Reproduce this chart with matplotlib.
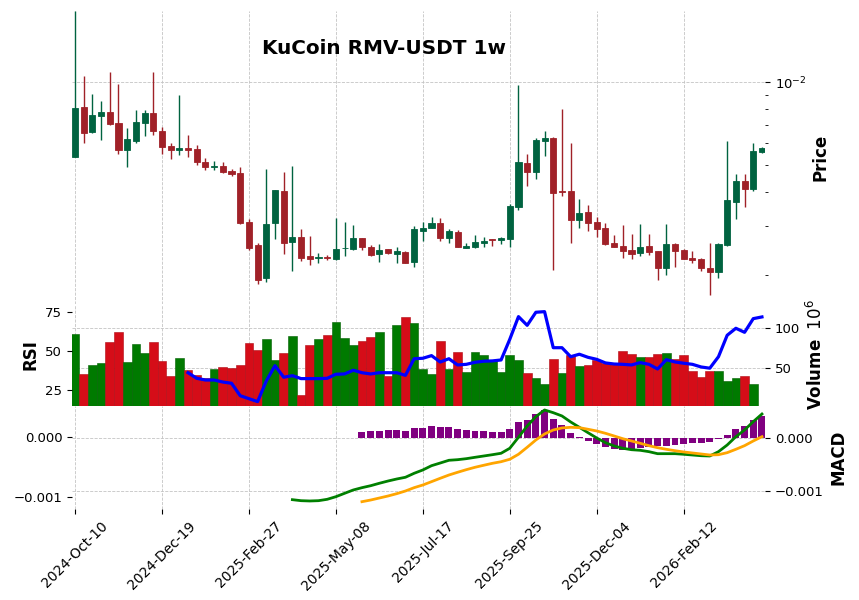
import numpy as np
import pandas as pd
import matplotlib
matplotlib.use('Agg')
import matplotlib.pyplot as plt
from matplotlib.ticker import MultipleLocator, NullFormatter

nan = np.nan

# weekly candles, KuCoin RMV-USDT
dates = pd.date_range('2024-10-10', periods=80, freq='7D')

opens = [0.00537, 0.00814, 0.00660, 0.00757, 0.00780, 0.00712, 0.00569, 0.00614, 0.00714, 0.00774,
         0.00666, 0.00587, 0.00569, 0.00577, 0.00573, 0.00514, 0.00494, 0.00497, 0.00478, 0.00469,
         0.00311, 0.00257, 0.00194, 0.00309, 0.00403, 0.00264, 0.002745, 0.00234, 0.00230, 0.002316,
         0.00229, 0.00250, 0.00249, 0.00273, 0.00253, 0.00239, 0.00249, 0.00239, 0.00242, 0.00223,
         0.00289, 0.00297, 0.00309, 0.00273, 0.00286, 0.00251, 0.00253, 0.00262, 0.00269, 0.00267,
         0.00271, 0.00353, 0.00509, 0.00474, 0.00614, 0.00628, 0.00403, 0.00403, 0.00317, 0.00338,
         0.00310, 0.00296, 0.00261, 0.00255, 0.00246, 0.00241, 0.00255, 0.00244, 0.00211, 0.00259,
         0.00246, 0.00231, 0.002284, 0.00212, 0.00204, 0.00256, 0.00369, 0.00438, 0.00411, 0.00558]
highs = [0.0181, 0.01051, 0.00904, 0.00853, 0.01087, 0.00989, 0.00681, 0.00791, 0.00793, 0.01087,
         0.00688, 0.00600, 0.00897, 0.00642, 0.00590, 0.00530, 0.00519, 0.00514, 0.00483, 0.00494,
         0.00320, 0.00260, 0.00483, 0.00407, 0.00473, 0.00495, 0.00293, 0.00276, 0.00240, 0.00237,
         0.00322, 0.00311, 0.00303, 0.00273, 0.002575, 0.00259, 0.00249, 0.00252, 0.00244, 0.00300,
         0.00310, 0.00324, 0.00321, 0.00293, 0.00292, 0.00260, 0.00278, 0.00275, 0.00271, 0.00275,
         0.00363, 0.00975, 0.00551, 0.00626, 0.00664, 0.00633, 0.00800, 0.00600, 0.00376, 0.00358,
         0.00325, 0.00308, 0.00278, 0.00303, 0.00281, 0.00305, 0.00281, 0.00244, 0.00305, 0.00261,
         0.002475, 0.00245, 0.00230, 0.00260, 0.00260, 0.00611, 0.00465, 0.00465, 0.00600, 0.00581]
lows = [0.00535, 0.00602, 0.006565, 0.00616, 0.00702, 0.00551, 0.00491, 0.00600, 0.00637, 0.00642,
        0.00551, 0.00528, 0.00546, 0.00534, 0.00500, 0.00479, 0.00479, 0.00470, 0.00456, 0.00306,
        0.00246, 0.00186, 0.00189, 0.00269, 0.00239, 0.00206, 0.00224, 0.00218, 0.00221, 0.00226,
        0.00227, 0.002335, 0.00246, 0.00246, 0.002335, 0.00222, 0.00238, 0.00221, 0.00221, 0.00213,
        0.00265, 0.00295, 0.00265, 0.00260, 0.00252, 0.00251, 0.00251, 0.00252, 0.00254, 0.00259,
        0.00253, 0.00345, 0.00419, 0.00447, 0.00539, 0.00209, 0.00388, 0.00260, 0.00297, 0.00288,
        0.00275, 0.002575, 0.002525, 0.00230, 0.00228, 0.00235, 0.00236, 0.00192, 0.00200, 0.00213,
        0.002284, 0.00221, 0.00206, 0.00169, 0.00194, 0.00254, 0.00318, 0.00354, 0.00404, 0.00555]
closes = [0.00807, 0.00657, 0.00761, 0.00780, 0.00706, 0.00569, 0.00623, 0.00718, 0.00774, 0.00668,
          0.00584, 0.00569, 0.00577, 0.00569, 0.00515, 0.00494, 0.00498, 0.00474, 0.00466, 0.00309,
          0.00251, 0.00192, 0.00306, 0.00407, 0.00262, 0.002745, 0.00231, 0.00228, 0.002316, 0.00230,
          0.00249, 0.00251, 0.00272, 0.00252, 0.00237, 0.00246, 0.00240, 0.00244, 0.00221, 0.00293,
          0.00296, 0.00309, 0.00272, 0.00289, 0.00253, 0.00255, 0.00263, 0.00266, 0.00267, 0.00272,
          0.00356, 0.00514, 0.00474, 0.00617, 0.00630, 0.00398, 0.00399, 0.00317, 0.00335, 0.00309,
          0.00294, 0.00259, 0.00253, 0.00245, 0.00239, 0.002525, 0.00243, 0.00211, 0.00259, 0.00245,
          0.00229, 0.00227, 0.00211, 0.00204, 0.00259, 0.00374, 0.00438, 0.00411, 0.00563, 0.00577]
# volume in millions
volume = [92.2, 43.0, 54.1, 56.9, 82.4, 94.7, 57.8, 80.3, 69.2, 82.4,
          59.0, 40.5, 62.7, 47.9, 41.7, 38.1, 49.1, 51.6, 50.7, 54.1,
          81.2, 72.5, 86.1, 60.2, 68.8, 89.8, 17.1, 78.7, 86.1, 91.0,
          107.0, 87.3, 78.7, 83.6, 88.5, 94.7, 40.5, 103.3, 113.2, 105.8,
          49.1, 43.0, 83.6, 49.1, 70.1, 45.4, 70.1, 66.4, 60.2, 45.4,
          66.4, 60.2, 44.2, 38.1, 30.7, 61.5, 44.2, 66.4, 52.8, 54.1,
          60.2, 56.5, 55.3, 71.3, 67.6, 63.9, 63.9, 67.6, 68.8, 61.5,
          66.4, 46.7, 39.3, 46.7, 46.7, 34.4, 38.1, 40.5, 30.7, 2.0]
rsi = [nan] * 13 + [
    36.0, 32.4, 31.3, 31.3, 30.0, 29.2, 21.2, 19.3, 17.4, 30.7,
    40.5, 33.1, 34.1, 32.2, 32.2, 32.2, 32.4, 35.0, 35.2, 37.6,
    36.0, 35.2, 36.0, 36.0, 36.0, 34.3, 45.0, 45.3, 47.0, 42.9,
    45.0, 41.0, 41.4, 42.7, 43.4, 43.6, 44.2, 57.5, 72.1, 66.5,
    74.9, 75.3, 52.1, 52.1, 46.3, 47.9, 45.9, 44.6, 42.3, 41.6,
    41.4, 41.0, 42.5, 41.4, 38.4, 44.4, 42.9, 42.1, 41.4, 39.7,
    38.9, 46.3, 60.1, 64.6, 62.0, 70.8, 71.9]
macd = [nan] * 25 + [
    -0.001050, -0.001067, -0.001072, -0.001067, -0.001044, -0.001000, -0.000943, -0.000887, -0.000848, -0.000815,
    -0.000774, -0.000736, -0.000702, -0.000673, -0.000606, -0.000550, -0.000478, -0.000433, -0.000387, -0.000377,
    -0.000360, -0.000337, -0.000315, -0.000293, -0.000269, -0.000185, 0.000000, 0.000190, 0.000347, 0.000460,
    0.000414, 0.000359, 0.000258, 0.000168, 0.000077, -0.000012, -0.000091, -0.000146, -0.000185, -0.000209,
    -0.000219, -0.000242, -0.000276, -0.000276, -0.000276, -0.000286, -0.000298, -0.000310, -0.000315, -0.000242,
    -0.000130, 0.000010, 0.000123, 0.000263, 0.000392]
signal = [nan] * 33 + [
    -0.001084, -0.001056, -0.001022, -0.000988, -0.000949, -0.000904, -0.000848, -0.000803, -0.000747, -0.000690,
    -0.000635, -0.000589, -0.000545, -0.000505, -0.000471, -0.000438, -0.000411, -0.000370, -0.000286, -0.000168,
    -0.000045, 0.000056, 0.000123, 0.000157, 0.000168, 0.000162, 0.000135, 0.000106, 0.000067, 0.000022,
    -0.000024, -0.000062, -0.000101, -0.000141, -0.000175, -0.000202, -0.000226, -0.000247, -0.000264, -0.000281,
    -0.000298, -0.000293, -0.000259, -0.000202, -0.000141, -0.000062, 0.000010]
hist = [nan] * 33 + [
    0.000120, 0.000139, 0.000139, 0.000158, 0.000158, 0.000139, 0.000197, 0.000203, 0.000235, 0.000222,
    0.000216, 0.000172, 0.000153, 0.000139, 0.000134, 0.000120, 0.000120, 0.000177, 0.000311, 0.000349,
    0.000464, 0.000540, 0.000368, 0.000254, 0.000095, 0.000030, -0.000046, -0.000109, -0.000166, -0.000204,
    -0.000223, -0.000204, -0.000191, -0.000166, -0.000141, -0.000141, -0.000122, -0.000103, -0.000090, -0.000090,
    -0.000065, -0.000020, 0.000063, 0.000172, 0.000235, 0.000349, 0.000431]

o = np.array(opens); h = np.array(highs); l = np.array(lows); c = np.array(closes)
x = np.arange(len(o))

up_c, down_c = '#006340', '#a02128'
vup_c, vdown_c = '#007a00', '#d50d18'
candle_col = [up_c if cc >= oo else down_c for oo, cc in zip(o, c)]
prev = np.concatenate([[o[0]], c[:-1]])
vol_col = [vup_c if cc >= pp else vdown_c for pp, cc in zip(prev, c)]
vol_edge = ['#006000' if col == vup_c else '#b00a14' for col in vol_col]

fig = plt.figure(figsize=(8.59, 6.0), dpi=100)
L, W = 72 / 859, 693 / 859
ax = fig.add_axes([L, 1 - 304.5 / 600, W, 293.5 / 600])
axv = fig.add_axes([L, 1 - 405.5 / 600, W, 101 / 600], sharex=ax)
axm = fig.add_axes([L, 1 - 509 / 600, W, 103.5 / 600], sharex=ax)
axr = axv.twinx()
axl = axm.twinx()

grid_kw = dict(color='#c4c4c4', linestyle='--', linewidth=0.6)

# price panel
ax.vlines(x, l, h, colors=candle_col, linewidth=1.0, zorder=2)
ax.bar(x, np.abs(c - o), bottom=np.minimum(o, c), width=0.7, color=candle_col,
       edgecolor=candle_col, linewidth=0.6, zorder=3)
ax.set_yscale('log')
ax.set_ylim(0.001561, 0.018146)
ax.yaxis.set_minor_formatter(NullFormatter())

# volume + rsi
axv.bar(x, volume, width=1.0, color=vol_col, edgecolor=vol_edge, linewidth=0.4)
axv.set_ylim(4.2, 128.6)
axv.yaxis.set_major_locator(MultipleLocator(50))
axr.plot(x, rsi, color='blue', linewidth=2.3)
axr.set_ylim(14.9, 79.9)
axr.yaxis.set_major_locator(MultipleLocator(25))

# macd
axm.bar(x, hist, width=0.8, color='purple')
axm.set_ylim(-0.001349, 0.000626)
axm.yaxis.set_major_locator(MultipleLocator(0.001))
axl.plot(x, macd, color='green', linewidth=2.0)
axl.plot(x, signal, color='orange', linewidth=2.0)
axl.set_ylim(-0.001207, 0.000535)
axl.yaxis.set_major_locator(MultipleLocator(0.001))

ax.set_xlim(-0.345, 79.35)
ticks = list(range(0, 80, 10))
axm.set_xticks(ticks)
axm.set_xticklabels([dates[i].strftime('%Y-%b-%d') for i in ticks], rotation=45, fontsize=10)

for a in (ax, axv, axm):
    a.yaxis.tick_right()
    a.yaxis.set_label_position('right')
    a.set_axisbelow(True)
    a.grid(True, which='major', **grid_kw)
    a.tick_params(axis='y', labelsize=9.5)
for a in (axr, axl):
    a.yaxis.tick_left()
    a.yaxis.set_label_position('left')
    a.tick_params(axis='y', labelsize=9.5)
for a in (ax, axv):
    a.tick_params(axis='x', bottom=False, labelbottom=False)
for a in (ax, axv, axm, axr, axl):
    for s in a.spines.values():
        s.set_visible(False)

lab = dict(fontsize=12, fontweight='bold')
ax.set_ylabel('Price', **lab)
axr.set_ylabel('RSI', **lab)
axv.set_ylabel(r'$\bf{Volume}$  $10^{6}$', fontsize=12)
axm.set_ylabel('MACD', **lab)

fig.text(384 / 859, 1 - 53.5 / 600, 'KuCoin RMV-USDT 1w', ha='center', va='baseline',
         fontsize=14.4, fontweight='bold')

fig.savefig('out.png', dpi=100)
